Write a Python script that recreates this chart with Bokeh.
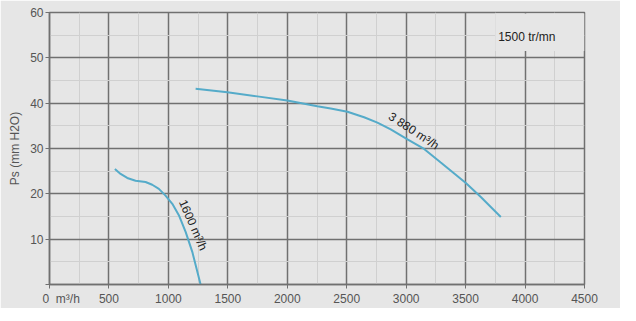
from bokeh.plotting import figure
from bokeh.models import Label, BoxAnnotation, FixedTicker, Range1d, Title
from bokeh.embed import file_html
from bokeh.resources import INLINE

# curve 1 (1600 m3/h)
q1 = [550, 598, 654, 724, 808, 864, 920, 976, 1033, 1088, 1145, 1201, 1271]
p1 = [25.5, 24.4, 23.5, 22.9, 22.6, 22.0, 21.1, 19.6, 17.8, 15.3, 11.6, 7.2, 0.0]
# curve 2 (3 880 m3/h)
q2 = [1229, 1496, 1748, 2000, 2253, 2365, 2506, 2646, 2758, 2870, 3011, 3151, 3291,
      3502, 3628, 3796]
p2 = [43.2, 42.4, 41.5, 40.6, 39.3, 38.8, 38.1, 36.9, 35.7, 34.2, 32.0, 29.9, 26.9,
      22.4, 19.3, 14.9]

x_ticks = [0, 500, 1000, 1500, 2000, 2500, 3000, 3500, 4000, 4500]
y_ticks = [0, 10, 20, 30, 40, 50, 60]
x_minor = [250, 750, 1250, 1750, 2250, 2750, 3250, 3750, 4250]
y_minor = [5, 15, 25, 35, 45, 55]
NB = "\u00a0"
x_zero_label = NB * 7 + "0" + NB * 2 + "m³/h"

BG = "#e6e6e6"
MAJ = "#707070"
MIN = "#d0d0d0"
CURVE = "#55abc9"
FONT = "Liberation Sans"

p = figure(frame_width=535, frame_height=272, output_backend="svg", toolbar_location=None,
           x_range=Range1d(0, 4500), y_range=Range1d(0, 60),
           min_border_left=49, min_border_right=36, min_border_top=12, min_border_bottom=21)
p.background_fill_color = BG
p.border_fill_color = BG
p.outline_line_color = MAJ
p.outline_line_width = 1.5

p.xaxis.ticker = FixedTicker(ticks=x_ticks, minor_ticks=x_minor)
p.yaxis.ticker = FixedTicker(ticks=y_ticks, minor_ticks=y_minor)
p.xaxis.major_label_overrides = {0: x_zero_label}
p.yaxis.major_label_overrides = {0: ""}

for ax in (p.xaxis, p.yaxis):
    ax.axis_line_color = MAJ
    ax.axis_line_width = 1.5
    ax.major_tick_line_color = MAJ
    ax.major_tick_in = 0
    ax.major_tick_out = 4
    ax.minor_tick_line_color = None
    ax.major_label_text_font = FONT
    ax.major_label_text_font_size = "12px"
    ax.major_label_text_color = "#555555"
p.yaxis.major_label_standoff = 2
p.xaxis.major_label_standoff = 3

for g in (p.xgrid, p.ygrid):
    g.grid_line_color = MAJ
    g.grid_line_width = 1.5
    g.minor_grid_line_color = MIN
    g.minor_grid_line_width = 1

p.line(q1, p1, line_color=CURVE, line_width=2)
p.line(q2, p2, line_color=CURVE, line_width=2)

p.add_layout(BoxAnnotation(left=3750, right=4500, bottom=51.5, top=59.8,
                           fill_color=BG, fill_alpha=1.0, line_color=None))

lbl_kw = dict(text_font=FONT, text_font_size="12px", text_color="#222222",
              text_align="center", text_baseline="middle")
p.add_layout(Label(x=4015, y=54.7, text="1500 tr/mn", **lbl_kw))
p.add_layout(Label(x=3064, y=33.9, text="3 880 m³/h", angle=-0.58, **lbl_kw))
p.add_layout(Label(x=1208, y=13.1, text="1600 m³/h", angle=-1.16, **lbl_kw))

ytitle = Title(text="Ps (mm H2O)", align="center", offset=54, standoff=11,
               text_font=FONT, text_font_size="12px", text_font_style="normal",
               text_color="#555555")
p.add_layout(ytitle, "left")

open("out.html", "w").write(file_html(p, INLINE))
